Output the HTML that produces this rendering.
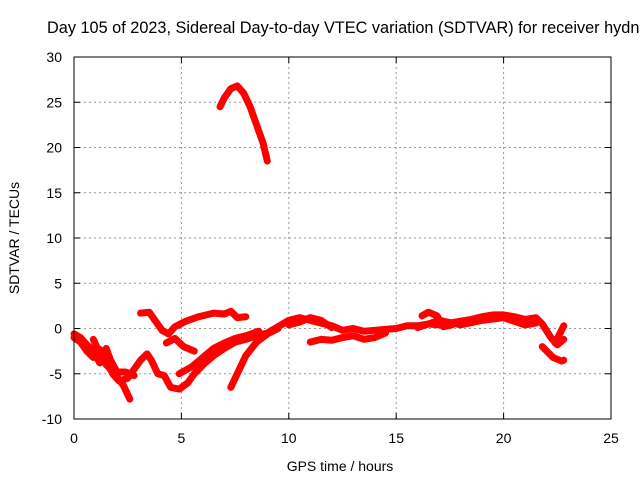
<!DOCTYPE html>
<html><head><meta charset="utf-8"><style>
body{margin:0;background:#fff;width:640px;height:480px;overflow:hidden;font-family:"Liberation Sans",sans-serif}
svg text{font-family:"Liberation Sans",sans-serif;font-size:14px;fill:#000}
</style></head><body>
<svg id="chart" width="640" height="480">
<text x="47" y="33" style="font-size:16.3px">Day 105 of 2023, Sidereal Day-to-day VTEC variation (SDTVAR) for receiver hydn</text>
<g id="grid"></g>
<g id="series"></g>
<rect x="74" y="57" width="537" height="362" fill="none" stroke="#000"/>
<g id="ticks"></g>
<text x="340" y="471" text-anchor="middle">GPS time / hours</text>
<text transform="translate(19,238) rotate(-90)" text-anchor="middle">SDTVAR / TECUs</text>
</svg>
<script>
const xTicks=[0,5,10,15,20,25];
const yTicks=[-10,-5,0,5,10,15,20,25,30];
const arcTop=[[6.8,24.5],[7.0,25.5],[7.3,26.5],[7.6,26.8],[7.9,26],[8.2,24.5],[8.5,22.5],[8.8,20.5],[9.0,18.5]];
const loopUpper=[[3.1,1.7],[3.5,1.8],[3.8,0.8],[4.1,-0.2],[4.4,-0.6],[4.7,0.2],[5.2,0.8],[5.8,1.3],[6.5,1.7],[7.0,1.6],[7.3,1.9],[7.6,1.2],[8.0,1.3]];
const branchC=[[4.3,-1.6],[4.7,-1.1],[5.1,-2.0],[5.6,-2.5]];
const mainBand=[[0,-1],[0.3,-1.5],[0.6,-2.5],[0.9,-3.2],[1.2,-2.3],[1.5,-3.5],[1.8,-5],[2.1,-5.8],[2.5,-5.5],[2.8,-4.5],[3.1,-3.5],[3.4,-2.8],[3.6,-3.5],[3.9,-5],[4.2,-5.2],[4.5,-6.5],[4.9,-6.7],[5.3,-6],[5.6,-5],[6.1,-3.8],[6.5,-3],[7.0,-2.2],[7.5,-1.5],[8.0,-1.2],[8.5,-0.8],[9.0,-0.5],[9.5,0.2],[10,0.9],[10.5,1.2],[11,0.9],[11.5,0.6],[12,0.3],[12.5,-0.2],[13,0],[13.5,-0.3],[14,-0.2],[14.5,-0.1],[15,0],[15.5,0.3],[16,0.3],[16.5,0.5],[17,0.4],[17.5,0.6],[18,0.8],[18.5,1.0],[19,1.3],[19.5,1.5],[20,1.5],[20.5,1.3],[21,1.0],[21.5,1.2],[21.8,0.5],[22.2,-1.0],[22.5,-1.8],[22.8,-1.2]];
const leftBand2=[[0,-0.6],[0.3,-1.0],[0.6,-1.8],[0.9,-2.5],[1.2,-3.8],[1.5,-2.2],[1.7,-3.5],[2.0,-4.8],[2.4,-4.8],[2.8,-5.2]];
const midBand2=[[10,0.4],[10.5,0.7],[11,1.2],[11.5,0.9],[12,0.1]];
const rightBand2=[[16,0.1],[17,0.9],[18,0.4],[19,0.9],[20,1.2],[20.5,0.8],[21,0.4],[21.5,0.6]];
const bandE=[[0.9,-1.2],[1.2,-2.8],[1.5,-4],[1.9,-5],[2.3,-6.3],[2.6,-7.8]];
const bandF=[[4.9,-5],[5.5,-4.2],[6.0,-3.2],[6.5,-2.2],[7.0,-1.6],[7.5,-1.1],[8.0,-0.8],[8.6,-0.3]];
const bandG=[[7.3,-6.5],[7.6,-5],[8.0,-3],[8.5,-1.5],[9,-0.6],[9.5,0]];
const bandH=[[11,-1.5],[11.5,-1.2],[12,-1.3],[12.5,-1.0],[13,-0.8],[13.5,-1.2],[14,-1.0],[14.5,-0.5]];
const bandI=[[16.2,1.4],[16.5,1.8],[16.9,1.4],[17.2,0.2],[17.6,0.4]];
const bandJ=[[21.8,-2.0],[22.3,-3.2],[22.7,-3.6],[22.8,-3.5]];
const bandK=[[22.4,-1.6],[22.8,0.3]];
const allSeries=[arcTop,loopUpper,branchC,mainBand,leftBand2,midBand2,rightBand2,bandE,bandF,bandG,bandH,bandI,bandJ,bandK];
const X=v=>74+v*537/25, Y=v=>419-(v+10)*362/40;
const NS="http://www.w3.org/2000/svg";
const grid=document.getElementById('grid'),ticks=document.getElementById('ticks'),ser=document.getElementById('series');
function mk(tag,attrs,parent){const e=document.createElementNS(NS,tag);for(const k in attrs)e.setAttribute(k,attrs[k]);parent.appendChild(e);return e;}
xTicks.forEach(t=>{
 if(t>0&&t<25){const l=mk('line',{x1:X(t),x2:X(t),y1:57,y2:419,stroke:'#999','stroke-dasharray':'2,3'},grid);
 
 }
 mk('line',{x1:X(t),x2:X(t),y1:419,y2:413,stroke:'#000'},ticks);
 mk('line',{x1:X(t),x2:X(t),y1:57,y2:63,stroke:'#000'},ticks);
 const tx=mk('text',{x:X(t),y:443,'text-anchor':'middle'},ticks);tx.textContent=t;
 
 
});
yTicks.forEach(t=>{
 if(t>-10&&t<30){const l=mk('line',{x1:74,x2:611,y1:Y(t),y2:Y(t),stroke:'#999','stroke-dasharray':'2,3'},grid);
 
 }
 mk('line',{x1:74,x2:80,y1:Y(t),y2:Y(t),stroke:'#000'},ticks);
 mk('line',{x1:611,x2:605,y1:Y(t),y2:Y(t),stroke:'#000'},ticks);
 const tx=mk('text',{x:62,y:Y(t)+5,'text-anchor':'end'},ticks);tx.textContent=t;
 
 
});
allSeries.forEach((s,i)=>{
 const p=mk('polyline',{points:s.map(d=>X(d[0])+','+Y(d[1])).join(' '),fill:'none',stroke:'#f00','stroke-width':7,'stroke-linejoin':'round','stroke-linecap':'round'},ser);
 
 
});
</script>
</body></html>
